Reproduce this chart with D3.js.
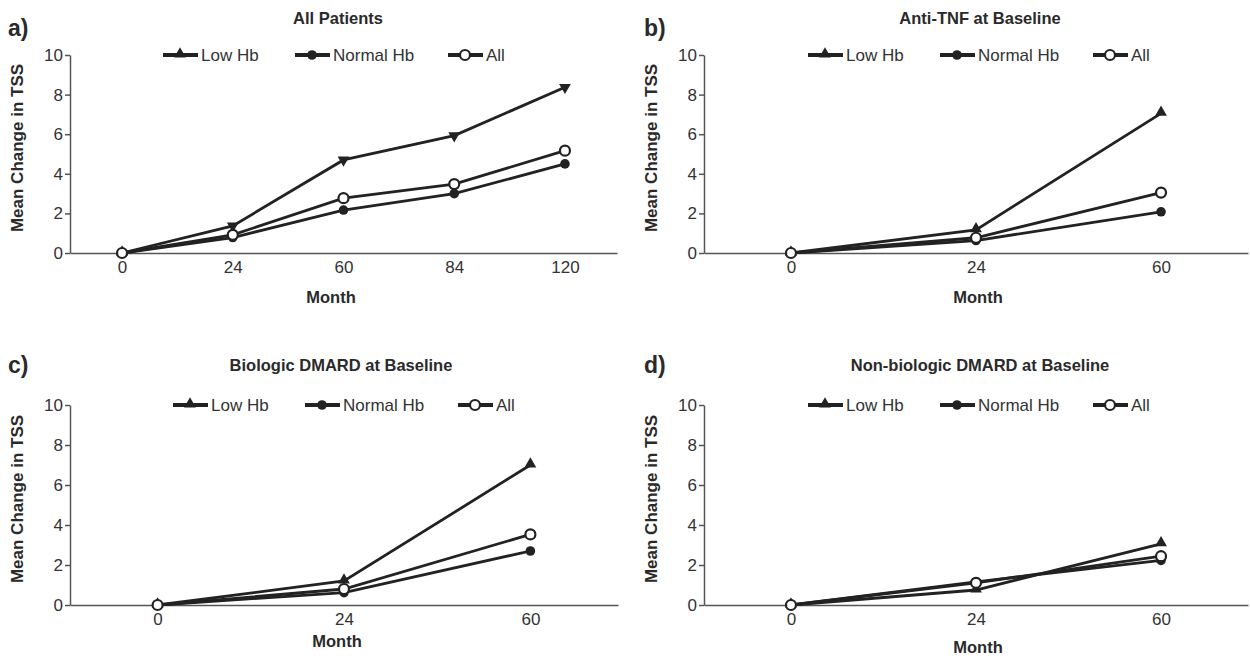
<!DOCTYPE html>
<html>
<head>
<meta charset="utf-8">
<script src="https://cdn.jsdelivr.net/npm/d3@7"></script>
<style>
  body { margin: 0; background: #fff; }
  text { font-family: "Liberation Sans", Arial, sans-serif; fill: #2a2a2a; }
  .tick text { font-size: 17px; fill: #333; }
  .bold { font-weight: bold; }
</style>
</head>
<body>
<svg id="chart" width="1250" height="658"></svg>
<script>
// series names and y ticks
var seriesNames = ["Low Hb", "Normal Hb", "All"];
var yTicks = [0, 2, 4, 6, 8, 10];

// panel a) All Patients
var monthsA = ["0", "24", "60", "84", "120"];
var lowA = [0, 1.37, 4.7, 5.93, 8.37];
var normalA = [0, 0.78, 2.17, 3.0, 4.5];
var allA = [0, 0.92, 2.77, 3.48, 5.17];

// panel b) Anti-TNF at Baseline
var monthsB = ["0", "24", "60"];
var lowB = [0, 1.17, 7.05];
var normalB = [0, 0.63, 2.08];
var allB = [0, 0.77, 3.05];

// panel c) Biologic DMARD at Baseline
var monthsC = ["0", "24", "60"];
var lowC = [0, 1.2, 7.0];
var normalC = [0, 0.62, 2.7];
var allC = [0, 0.8, 3.53];

// panel d) Non-biologic DMARD at Baseline
var monthsD = ["0", "24", "60"];
var lowD = [0, 0.75, 3.06];
var normalD = [0, 1.16, 2.23];
var allD = [0, 1.11, 2.44];

var svg = d3.select("#chart");

//layout of each panel
var panels = [
  {tag:"a)", title:"All Patients", months:monthsA, series:[lowA, normalA, allA],
   left:70, right:617, top:55, bottom:253, tagX:8, tagY:36, titleX:338, titleY:24,
   legendX:163, monthX:331, monthY:303, lowDown:true},
  {tag:"b)", title:"Anti-TNF at Baseline", months:monthsB, series:[lowB, normalB, allB],
   left:704, right:1248, top:55, bottom:253, tagX:644, tagY:36, titleX:980, titleY:24,
   legendX:808, monthX:978, monthY:303, lowDown:false},
  {tag:"c)", title:"Biologic DMARD at Baseline", months:monthsC, series:[lowC, normalC, allC],
   left:70, right:618, top:405, bottom:605, tagX:8, tagY:373, titleX:341, titleY:371,
   legendX:173, monthX:337, monthY:647, lowDown:false},
  {tag:"d)", title:"Non-biologic DMARD at Baseline", months:monthsD, series:[lowD, normalD, allD],
   left:704, right:1248, top:405, bottom:605, tagX:644, tagY:373, titleX:980, titleY:371,
   legendX:808, monthX:978, monthY:653, lowDown:false}
];

var ink = "#222";

var drawMarker = function(g, kind, x, y, down)
{
    if (kind == 0) {
        var sym = d3.symbol().type(d3.symbolTriangle).size(60);
        g.append("path")
            .attr("d", sym())
            .attr("transform", "translate(" + x + "," + (y + (down ? 0 : -1)) + ")" + (down ? " rotate(180)" : ""))
            .attr("fill", ink);
    } else if (kind == 1) {
        g.append("circle").attr("cx", x).attr("cy", y).attr("r", 4.8).attr("fill", ink);
    } else {
        g.append("circle").attr("cx", x).attr("cy", y).attr("r", 5)
            .attr("fill", "#fff").attr("stroke", ink).attr("stroke-width", 2.2);
    }
}

panels.forEach(function(p)
{
    var g = svg.append("g");

    var xScale = d3.scalePoint()
        .domain(p.months)
        .range([p.left, p.right])
        .padding(0.47);

    var yScale = d3.scaleLinear()
        .domain([0, 10])
        .range([p.bottom, p.top]);

    // y axis
    var yAxis = g.append("g")
        .attr("transform", "translate(" + p.left + ",0)")
        .call(d3.axisLeft(yScale).tickValues(yTicks).tickSize(5).tickPadding(2).tickSizeOuter(0));
    yAxis.select(".domain").attr("stroke", "#555").attr("stroke-width", 1.5);
    yAxis.selectAll(".tick line").attr("stroke", "#555").attr("stroke-width", 1.5);

    // x axis, no tick marks
    var xAxis = g.append("g")
        .attr("transform", "translate(0," + p.bottom + ")")
        .call(d3.axisBottom(xScale).tickSize(0).tickPadding(8).tickSizeOuter(0));
    xAxis.select(".domain").attr("stroke", "#555").attr("stroke-width", 1.5);

    // lines
    var line = d3.line()
        .x(function(d, i) { return xScale(p.months[i]); })
        .y(function(d) { return yScale(d); });

    [1, 2, 0].forEach(function(k)
    {
        g.append("path")
            .datum(p.series[k])
            .attr("d", line)
            .attr("fill", "none")
            .attr("stroke", ink)
            .attr("stroke-width", 2.8);
    });
    [1, 0, 2].forEach(function(k)
    {
        p.series[k].forEach(function(v, i)
        {
            drawMarker(g, k, xScale(p.months[i]), yScale(v), p.lowDown && i > 0);
        });
    });

    // legend
    var lx = p.legendX;
    var offsets = [0, 132, 285];
    seriesNames.forEach(function(name, k)
    {
        var x0 = lx + offsets[k];
        var ly = p.top;
        g.append("line").attr("x1", x0).attr("x2", x0 + 35)
            .attr("y1", ly).attr("y2", ly)
            .attr("stroke", ink).attr("stroke-width", 4);
        drawMarker(g, k, x0 + 17, ly, false);
        g.append("text").attr("x", x0 + 38).attr("y", ly + 6)
            .style("font-size", "17px").style("fill", "#333").text(name);
    });

    // labels
    g.append("text").classed("bold", true)
        .attr("x", p.tagX).attr("y", p.tagY)
        .style("font-size", "23px").text(p.tag);
    g.append("text").classed("bold", true)
        .attr("x", p.titleX).attr("y", p.titleY)
        .attr("text-anchor", "middle")
        .style("font-size", "16.5px").text(p.title);
    g.append("text").classed("bold", true)
        .attr("x", p.monthX).attr("y", p.monthY)
        .attr("text-anchor", "middle")
        .style("font-size", "16.5px").text("Month");
    g.append("text").classed("bold", true)
        .attr("transform", "translate(" + (p.left - 47) + "," + ((p.top + p.bottom) / 2 - 6) + ") rotate(-90)")
        .attr("text-anchor", "middle")
        .style("font-size", "17px").text("Mean Change in TSS");
});
</script>
</body>
</html>
